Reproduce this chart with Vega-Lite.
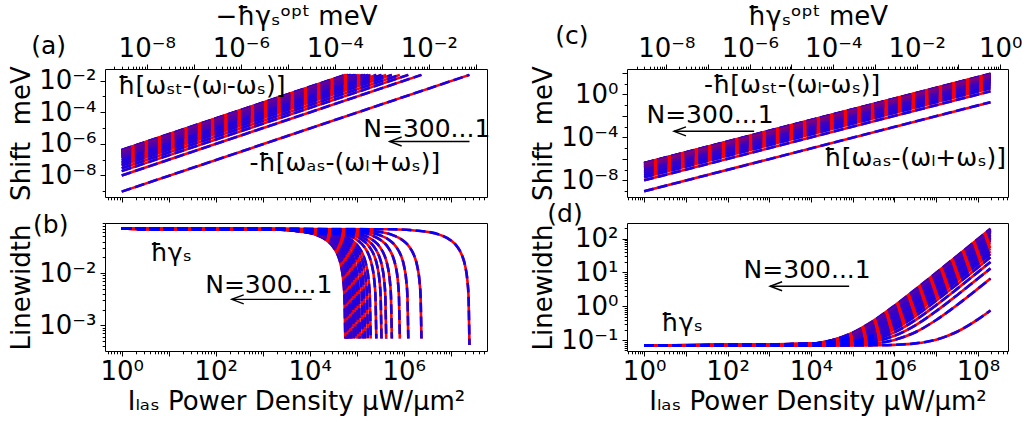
{
  "$schema": "https://vega.github.io/schema/vega-lite/v6.json",
  "background": "white",
  "padding": {"left": 8, "top": 2, "right": 5, "bottom": 5},
  "config": {
    "font": "DejaVu Sans",
    "view": {"stroke": "black", "strokeWidth": 1},
    "axis": {"domain": false, "grid": false, "labelFont": "DejaVu Sans", "labelFontSize": 26, "labelColor": "black", "titleFont": "DejaVu Sans", "titleFontSize": 26, "titleFontWeight": "normal", "titleColor": "black", "tickColor": "black", "tickWidth": 1, "labelOverlap": false, "labelFlush": false, "labelPadding": 4}
  },
  "datasets": {
    "a": [
      {"n":1,"I":1,"v":9.33e-10},{"n":1,"I":2.49e7,"v":0.0233},
      {"n":2,"I":1,"v":9.77e-9},{"n":2,"I":2.377e6,"v":0.0233},
      {"n":3,"I":1,"v":1.86e-8},{"n":3,"I":1.248e6,"v":0.0233},
      {"n":4,"I":1,"v":2.82e-8},{"n":4,"I":8.243e5,"v":0.0233},
      {"n":5,"I":1,"v":4.17e-8},{"n":5,"I":5.572e5,"v":0.0233},
      {"n":6,"I":1,"v":5.5e-8},{"n":6,"I":4.227e5,"v":0.0233},
      {"n":7,"I":1,"v":6.92e-8},{"n":7,"I":3.358e5,"v":0.0233},
      {"n":8,"I":1,"v":8.91e-8},{"n":8,"I":2.607e5,"v":0.0233},
      {"n":9,"I":1,"v":1.17e-7},{"n":9,"I":1.977e5,"v":0.0233},
      {"n":10,"I":1,"v":1.35e-7},{"n":10,"I":1.722e5,"v":0.0233},
      {"n":12,"I":1,"v":1.55e-7},{"n":12,"I":1.5e5,"v":0.0233},
      {"n":14,"I":1,"v":1.74e-7},{"n":14,"I":1.337e5,"v":0.0233},
      {"n":17,"I":1,"v":2.0e-7},{"n":17,"I":1.164e5,"v":0.0233},
      {"n":20,"I":1,"v":2.19e-7},{"n":20,"I":1.062e5,"v":0.0233},
      {"n":25,"I":1,"v":2.45e-7},{"n":25,"I":9.464e4,"v":0.0233},
      {"n":30,"I":1,"v":2.69e-7},{"n":30,"I":8.631e4,"v":0.0233},
      {"n":40,"I":1,"v":3.02e-7},{"n":40,"I":7.692e4,"v":0.0233},
      {"n":50,"I":1,"v":3.24e-7},{"n":50,"I":7.179e4,"v":0.0233},
      {"n":70,"I":1,"v":3.55e-7},{"n":70,"I":6.547e4,"v":0.0233},
      {"n":100,"I":1,"v":3.72e-7},{"n":100,"I":6.253e4,"v":0.0233},
      {"n":150,"I":1,"v":3.89e-7},{"n":150,"I":5.972e4,"v":0.0233},
      {"n":300,"I":1,"v":4.07e-7},{"n":300,"I":5.702e4,"v":0.0233}
    ],
    "b": [
      {"n":1,"I":1,"v":0.07},{"n":1,"I":5.02e5,"v":0.0686},{"n":1,"I":2.51e6,"v":0.063},{"n":1,"I":6.28e6,"v":0.0525},{"n":1,"I":1.005e7,"v":0.042},{"n":1,"I":1.382e7,"v":0.0315},{"n":1,"I":1.758e7,"v":0.021},{"n":1,"I":2.01e7,"v":0.014},{"n":1,"I":2.261e7,"v":0.007},{"n":1,"I":2.386e7,"v":0.0035},{"n":1,"I":2.497e7,"v":0.00042},
      {"n":2,"I":1,"v":0.07},{"n":2,"I":4.8e4,"v":0.0686},{"n":2,"I":2.4e5,"v":0.063},{"n":2,"I":6.0e5,"v":0.0525},{"n":2,"I":9.6e5,"v":0.042},{"n":2,"I":1.319e6,"v":0.0315},{"n":2,"I":1.679e6,"v":0.021},{"n":2,"I":1.919e6,"v":0.014},{"n":2,"I":2.159e6,"v":0.007},{"n":2,"I":2.279e6,"v":0.0035},{"n":2,"I":2.377e6,"v":0.00056},
      {"n":3,"I":1,"v":0.07},{"n":3,"I":2.52e4,"v":0.0686},{"n":3,"I":1.259e5,"v":0.063},{"n":3,"I":3.15e5,"v":0.0525},{"n":3,"I":5.04e5,"v":0.042},{"n":3,"I":6.92e5,"v":0.0315},{"n":3,"I":8.81e5,"v":0.021},{"n":3,"I":1.007e6,"v":0.014},{"n":3,"I":1.133e6,"v":0.007},{"n":3,"I":1.196e6,"v":0.0035},{"n":3,"I":1.248e6,"v":0.00056},
      {"n":4,"I":1,"v":0.07},{"n":4,"I":1.66e4,"v":0.0686},{"n":4,"I":8.32e4,"v":0.063},{"n":4,"I":2.08e5,"v":0.0525},{"n":4,"I":3.33e5,"v":0.042},{"n":4,"I":4.57e5,"v":0.0315},{"n":4,"I":5.82e5,"v":0.021},{"n":4,"I":6.65e5,"v":0.014},{"n":4,"I":7.49e5,"v":0.007},{"n":4,"I":7.9e5,"v":0.0035},{"n":4,"I":8.243e5,"v":0.00056},
      {"n":5,"I":1,"v":0.07},{"n":5,"I":1.12e4,"v":0.0686},{"n":5,"I":5.62e4,"v":0.063},{"n":5,"I":1.406e5,"v":0.0525},{"n":5,"I":2.249e5,"v":0.042},{"n":5,"I":3.093e5,"v":0.0315},{"n":5,"I":3.936e5,"v":0.021},{"n":5,"I":4.498e5,"v":0.014},{"n":5,"I":5.061e5,"v":0.007},{"n":5,"I":5.342e5,"v":0.0035},{"n":5,"I":5.572e5,"v":0.00056},
      {"n":6,"I":1,"v":0.07},{"n":6,"I":8.53e3,"v":0.0686},{"n":6,"I":4.27e4,"v":0.063},{"n":6,"I":1.067e5,"v":0.0525},{"n":6,"I":1.706e5,"v":0.042},{"n":6,"I":2.346e5,"v":0.0315},{"n":6,"I":2.986e5,"v":0.021},{"n":6,"I":3.413e5,"v":0.014},{"n":6,"I":3.839e5,"v":0.007},{"n":6,"I":4.053e5,"v":0.0035},{"n":6,"I":4.228e5,"v":0.00056},
      {"n":7,"I":1,"v":0.07},{"n":7,"I":6.78e3,"v":0.0686},{"n":7,"I":3.39e4,"v":0.063},{"n":7,"I":8.47e4,"v":0.0525},{"n":7,"I":1.355e5,"v":0.042},{"n":7,"I":1.863e5,"v":0.0315},{"n":7,"I":2.372e5,"v":0.021},{"n":7,"I":2.71e5,"v":0.014},{"n":7,"I":3.049e5,"v":0.007},{"n":7,"I":3.219e5,"v":0.0035},{"n":7,"I":3.358e5,"v":0.00056},
      {"n":8,"I":1,"v":0.07},{"n":8,"I":5.26e3,"v":0.0686},{"n":8,"I":2.63e4,"v":0.063},{"n":8,"I":6.58e4,"v":0.0525},{"n":8,"I":1.052e5,"v":0.042},{"n":8,"I":1.447e5,"v":0.0315},{"n":8,"I":1.841e5,"v":0.021},{"n":8,"I":2.104e5,"v":0.014},{"n":8,"I":2.367e5,"v":0.007},{"n":8,"I":2.499e5,"v":0.0035},{"n":8,"I":2.606e5,"v":0.00056},
      {"n":9,"I":1,"v":0.07},{"n":9,"I":3.99e3,"v":0.0686},{"n":9,"I":2.0e4,"v":0.063},{"n":9,"I":4.99e4,"v":0.0525},{"n":9,"I":7.98e4,"v":0.042},{"n":9,"I":1.097e5,"v":0.0315},{"n":9,"I":1.397e5,"v":0.021},{"n":9,"I":1.596e5,"v":0.014},{"n":9,"I":1.796e5,"v":0.007},{"n":9,"I":1.895e5,"v":0.0035},{"n":9,"I":1.977e5,"v":0.00056},
      {"n":10,"I":1,"v":0.07},{"n":10,"I":3.48e3,"v":0.0686},{"n":10,"I":1.738e4,"v":0.063},{"n":10,"I":4.35e4,"v":0.0525},{"n":10,"I":6.95e4,"v":0.042},{"n":10,"I":9.56e4,"v":0.0315},{"n":10,"I":1.217e5,"v":0.021},{"n":10,"I":1.39e5,"v":0.014},{"n":10,"I":1.564e5,"v":0.007},{"n":10,"I":1.651e5,"v":0.0035},{"n":10,"I":1.722e5,"v":0.00056},
      {"n":12,"I":1,"v":0.07},{"n":12,"I":3.03e3,"v":0.0686},{"n":12,"I":1.514e4,"v":0.063},{"n":12,"I":3.79e4,"v":0.0525},{"n":12,"I":6.06e4,"v":0.042},{"n":12,"I":8.33e4,"v":0.0315},{"n":12,"I":1.06e5,"v":0.021},{"n":12,"I":1.211e5,"v":0.014},{"n":12,"I":1.363e5,"v":0.007},{"n":12,"I":1.438e5,"v":0.0035},{"n":12,"I":1.5e5,"v":0.00056},
      {"n":14,"I":1,"v":0.07},{"n":14,"I":2.7e3,"v":0.0686},{"n":14,"I":1.349e4,"v":0.063},{"n":14,"I":3.37e4,"v":0.0525},{"n":14,"I":5.4e4,"v":0.042},{"n":14,"I":7.42e4,"v":0.0315},{"n":14,"I":9.44e4,"v":0.021},{"n":14,"I":1.079e5,"v":0.014},{"n":14,"I":1.214e5,"v":0.007},{"n":14,"I":1.282e5,"v":0.0035},{"n":14,"I":1.337e5,"v":0.00056},
      {"n":17,"I":1,"v":0.07},{"n":17,"I":2.35e3,"v":0.0686},{"n":17,"I":1.175e4,"v":0.063},{"n":17,"I":2.94e4,"v":0.0525},{"n":17,"I":4.7e4,"v":0.042},{"n":17,"I":6.46e4,"v":0.0315},{"n":17,"I":8.23e4,"v":0.021},{"n":17,"I":9.4e4,"v":0.014},{"n":17,"I":1.058e5,"v":0.007},{"n":17,"I":1.116e5,"v":0.0035},{"n":17,"I":1.164e5,"v":0.00056},
      {"n":20,"I":1,"v":0.07},{"n":20,"I":2.14e3,"v":0.0686},{"n":20,"I":1.072e4,"v":0.063},{"n":20,"I":2.68e4,"v":0.0525},{"n":20,"I":4.29e4,"v":0.042},{"n":20,"I":5.9e4,"v":0.0315},{"n":20,"I":7.5e4,"v":0.021},{"n":20,"I":8.58e4,"v":0.014},{"n":20,"I":9.65e4,"v":0.007},{"n":20,"I":1.018e5,"v":0.0035},{"n":20,"I":1.062e5,"v":0.00056},
      {"n":25,"I":1,"v":0.07},{"n":25,"I":1.91e3,"v":0.0686},{"n":25,"I":9.55e3,"v":0.063},{"n":25,"I":2.39e4,"v":0.0525},{"n":25,"I":3.82e4,"v":0.042},{"n":25,"I":5.25e4,"v":0.0315},{"n":25,"I":6.69e4,"v":0.021},{"n":25,"I":7.64e4,"v":0.014},{"n":25,"I":8.6e4,"v":0.007},{"n":25,"I":9.07e4,"v":0.0035},{"n":25,"I":9.46e4,"v":0.00056},
      {"n":30,"I":1,"v":0.07},{"n":30,"I":1.74e3,"v":0.0686},{"n":30,"I":8.71e3,"v":0.063},{"n":30,"I":2.18e4,"v":0.0525},{"n":30,"I":3.48e4,"v":0.042},{"n":30,"I":4.79e4,"v":0.0315},{"n":30,"I":6.1e4,"v":0.021},{"n":30,"I":6.97e4,"v":0.014},{"n":30,"I":7.84e4,"v":0.007},{"n":30,"I":8.27e4,"v":0.0035},{"n":30,"I":8.63e4,"v":0.00056},
      {"n":40,"I":1,"v":0.07},{"n":40,"I":1.55e3,"v":0.0686},{"n":40,"I":7.76e3,"v":0.063},{"n":40,"I":1.94e4,"v":0.0525},{"n":40,"I":3.1e4,"v":0.042},{"n":40,"I":4.27e4,"v":0.0315},{"n":40,"I":5.43e4,"v":0.021},{"n":40,"I":6.21e4,"v":0.014},{"n":40,"I":6.99e4,"v":0.007},{"n":40,"I":7.37e4,"v":0.0035},{"n":40,"I":7.69e4,"v":0.00056},
      {"n":50,"I":1,"v":0.07},{"n":50,"I":1.45e3,"v":0.0686},{"n":50,"I":7.24e3,"v":0.063},{"n":50,"I":1.81e4,"v":0.0525},{"n":50,"I":2.9e4,"v":0.042},{"n":50,"I":3.98e4,"v":0.0315},{"n":50,"I":5.07e4,"v":0.021},{"n":50,"I":5.8e4,"v":0.014},{"n":50,"I":6.52e4,"v":0.007},{"n":50,"I":6.88e4,"v":0.0035},{"n":50,"I":7.18e4,"v":0.00056},
      {"n":70,"I":1,"v":0.07},{"n":70,"I":1.32e3,"v":0.0686},{"n":70,"I":6.61e3,"v":0.063},{"n":70,"I":1.65e4,"v":0.0525},{"n":70,"I":2.64e4,"v":0.042},{"n":70,"I":3.63e4,"v":0.0315},{"n":70,"I":4.62e4,"v":0.021},{"n":70,"I":5.29e4,"v":0.014},{"n":70,"I":5.95e4,"v":0.007},{"n":70,"I":6.28e4,"v":0.0035},{"n":70,"I":6.55e4,"v":0.00056},
      {"n":100,"I":1,"v":0.07},{"n":100,"I":1.26e3,"v":0.0686},{"n":100,"I":6.31e3,"v":0.063},{"n":100,"I":1.58e4,"v":0.0525},{"n":100,"I":2.52e4,"v":0.042},{"n":100,"I":3.47e4,"v":0.0315},{"n":100,"I":4.42e4,"v":0.021},{"n":100,"I":5.05e4,"v":0.014},{"n":100,"I":5.68e4,"v":0.007},{"n":100,"I":5.99e4,"v":0.0035},{"n":100,"I":6.25e4,"v":0.00056},
      {"n":150,"I":1,"v":0.07},{"n":150,"I":1.21e3,"v":0.0686},{"n":150,"I":6.03e3,"v":0.063},{"n":150,"I":1.51e4,"v":0.0525},{"n":150,"I":2.41e4,"v":0.042},{"n":150,"I":3.31e4,"v":0.0315},{"n":150,"I":4.22e4,"v":0.021},{"n":150,"I":4.82e4,"v":0.014},{"n":150,"I":5.42e4,"v":0.007},{"n":150,"I":5.72e4,"v":0.0035},{"n":150,"I":5.97e4,"v":0.00056},
      {"n":300,"I":1,"v":0.07},{"n":300,"I":1.15e3,"v":0.0686},{"n":300,"I":5.75e3,"v":0.063},{"n":300,"I":1.44e4,"v":0.0525},{"n":300,"I":2.3e4,"v":0.042},{"n":300,"I":3.16e4,"v":0.0315},{"n":300,"I":4.03e4,"v":0.021},{"n":300,"I":4.6e4,"v":0.014},{"n":300,"I":5.18e4,"v":0.007},{"n":300,"I":5.47e4,"v":0.0035},{"n":300,"I":5.7e4,"v":0.00056}
    ],
    "c": [
      {"n":1,"I":1,"v":9.33e-10},{"n":1,"I":2e8,"v":0.187},
      {"n":2,"I":1,"v":9.77e-9},{"n":2,"I":2e8,"v":1.954},
      {"n":3,"I":1,"v":1.86e-8},{"n":3,"I":2e8,"v":3.72},
      {"n":4,"I":1,"v":2.82e-8},{"n":4,"I":2e8,"v":5.64},
      {"n":5,"I":1,"v":4.17e-8},{"n":5,"I":2e8,"v":8.34},
      {"n":6,"I":1,"v":5.5e-8},{"n":6,"I":2e8,"v":11.0},
      {"n":7,"I":1,"v":6.92e-8},{"n":7,"I":2e8,"v":13.84},
      {"n":8,"I":1,"v":8.91e-8},{"n":8,"I":2e8,"v":17.82},
      {"n":9,"I":1,"v":1.17e-7},{"n":9,"I":2e8,"v":23.4},
      {"n":10,"I":1,"v":1.35e-7},{"n":10,"I":2e8,"v":27.0},
      {"n":12,"I":1,"v":1.55e-7},{"n":12,"I":2e8,"v":31.0},
      {"n":14,"I":1,"v":1.74e-7},{"n":14,"I":2e8,"v":34.8},
      {"n":17,"I":1,"v":2.0e-7},{"n":17,"I":2e8,"v":40.0},
      {"n":20,"I":1,"v":2.19e-7},{"n":20,"I":2e8,"v":43.8},
      {"n":25,"I":1,"v":2.45e-7},{"n":25,"I":2e8,"v":49.0},
      {"n":30,"I":1,"v":2.69e-7},{"n":30,"I":2e8,"v":53.8},
      {"n":40,"I":1,"v":3.02e-7},{"n":40,"I":2e8,"v":60.4},
      {"n":50,"I":1,"v":3.24e-7},{"n":50,"I":2e8,"v":64.8},
      {"n":70,"I":1,"v":3.55e-7},{"n":70,"I":2e8,"v":71.0},
      {"n":100,"I":1,"v":3.72e-7},{"n":100,"I":2e8,"v":74.4},
      {"n":150,"I":1,"v":3.89e-7},{"n":150,"I":2e8,"v":77.8},
      {"n":300,"I":1,"v":4.07e-7},{"n":300,"I":2e8,"v":81.4}
    ],
    "d": [
      {"n":1,"I":1,"v":0.07},{"n":1,"I":1e4,"v":0.07},{"n":1,"I":3.16e4,"v":0.0701},{"n":1,"I":1e5,"v":0.0703},{"n":1,"I":3.16e5,"v":0.0711},{"n":1,"I":1e6,"v":0.0734},{"n":1,"I":3.16e6,"v":0.0809},{"n":1,"I":1e7,"v":0.1045},{"n":1,"I":3.16e7,"v":0.179},{"n":1,"I":1e8,"v":0.415},{"n":1,"I":2e8,"v":0.759},
      {"n":2,"I":1,"v":0.07},{"n":2,"I":1e4,"v":0.0703},{"n":2,"I":3.16e4,"v":0.071},{"n":2,"I":1e5,"v":0.0733},{"n":2,"I":3.16e5,"v":0.0803},{"n":2,"I":1e6,"v":0.1027},{"n":2,"I":3.16e6,"v":0.173},{"n":2,"I":1e7,"v":0.397},{"n":2,"I":3.16e7,"v":1.1},{"n":2,"I":1e8,"v":3.34},{"n":2,"I":2e8,"v":6.61},
      {"n":3,"I":1,"v":0.07},{"n":3,"I":1e4,"v":0.0707},{"n":3,"I":3.16e4,"v":0.0721},{"n":3,"I":1e5,"v":0.0766},{"n":3,"I":3.16e5,"v":0.0907},{"n":3,"I":1e6,"v":0.1356},{"n":3,"I":3.16e6,"v":0.277},{"n":3,"I":1e7,"v":0.726},{"n":3,"I":3.16e7,"v":2.14},{"n":3,"I":1e8,"v":6.63},{"n":3,"I":2e8,"v":13.18},
      {"n":4,"I":1,"v":0.07},{"n":4,"I":1e4,"v":0.071},{"n":4,"I":3.16e4,"v":0.0732},{"n":4,"I":1e5,"v":0.0802},{"n":4,"I":3.16e5,"v":0.1022},{"n":4,"I":1e6,"v":0.1718},{"n":4,"I":3.16e6,"v":0.392},{"n":4,"I":1e7,"v":1.088},{"n":4,"I":3.16e7,"v":3.29},{"n":4,"I":1e8,"v":10.25},{"n":4,"I":2e8,"v":20.42},
      {"n":5,"I":1,"v":0.07},{"n":5,"I":1e4,"v":0.0714},{"n":5,"I":3.16e4,"v":0.0745},{"n":5,"I":1e5,"v":0.0841},{"n":5,"I":3.16e5,"v":0.1145},{"n":5,"I":1e6,"v":0.2106},{"n":5,"I":3.16e6,"v":0.515},{"n":5,"I":1e7,"v":1.476},{"n":5,"I":3.16e7,"v":4.52},{"n":5,"I":1e8,"v":14.13},{"n":5,"I":2e8,"v":28.19},
      {"n":6,"I":1,"v":0.07},{"n":6,"I":1e4,"v":0.0718},{"n":6,"I":3.16e4,"v":0.0756},{"n":6,"I":1e5,"v":0.0877},{"n":6,"I":3.16e5,"v":0.126},{"n":6,"I":1e6,"v":0.247},{"n":6,"I":3.16e6,"v":0.63},{"n":6,"I":1e7,"v":1.84},{"n":6,"I":3.16e7,"v":5.67},{"n":6,"I":1e8,"v":17.77},{"n":6,"I":2e8,"v":35.47},
      {"n":7,"I":1,"v":0.07},{"n":7,"I":1e4,"v":0.0721},{"n":7,"I":3.16e4,"v":0.0767},{"n":7,"I":1e5,"v":0.0913},{"n":7,"I":3.16e5,"v":0.1373},{"n":7,"I":1e6,"v":0.2829},{"n":7,"I":3.16e6,"v":0.743},{"n":7,"I":1e7,"v":2.199},{"n":7,"I":3.16e7,"v":6.8},{"n":7,"I":1e8,"v":21.36},{"n":7,"I":2e8,"v":42.65},
      {"n":8,"I":1,"v":0.07},{"n":8,"I":1e4,"v":0.0725},{"n":8,"I":3.16e4,"v":0.0779},{"n":8,"I":1e5,"v":0.095},{"n":8,"I":3.16e5,"v":0.1491},{"n":8,"I":1e6,"v":0.3203},{"n":8,"I":3.16e6,"v":0.861},{"n":8,"I":1e7,"v":2.573},{"n":8,"I":3.16e7,"v":7.98},{"n":8,"I":1e8,"v":25.1},{"n":8,"I":2e8,"v":50.13},
      {"n":9,"I":1,"v":0.07},{"n":9,"I":1e4,"v":0.0729},{"n":9,"I":3.16e4,"v":0.0791},{"n":9,"I":1e5,"v":0.0987},{"n":9,"I":3.16e5,"v":0.1609},{"n":9,"I":1e6,"v":0.3574},{"n":9,"I":3.16e6,"v":0.979},{"n":9,"I":1e7,"v":2.944},{"n":9,"I":3.16e7,"v":9.16},{"n":9,"I":1e8,"v":28.81},{"n":9,"I":2e8,"v":57.55},
      {"n":10,"I":1,"v":0.07},{"n":10,"I":1e4,"v":0.0732},{"n":10,"I":3.16e4,"v":0.08},{"n":10,"I":1e5,"v":0.1015},{"n":10,"I":3.16e5,"v":0.1696},{"n":10,"I":1e6,"v":0.3851},{"n":10,"I":3.16e6,"v":1.066},{"n":10,"I":1e7,"v":3.221},{"n":10,"I":3.16e7,"v":10.03},{"n":10,"I":1e8,"v":31.58},{"n":10,"I":2e8,"v":63.09},
      {"n":12,"I":1,"v":0.07},{"n":12,"I":1e4,"v":0.0737},{"n":12,"I":3.16e4,"v":0.0817},{"n":12,"I":1e5,"v":0.107},{"n":12,"I":3.16e5,"v":0.1871},{"n":12,"I":1e6,"v":0.4403},{"n":12,"I":3.16e6,"v":1.241},{"n":12,"I":1e7,"v":3.773},{"n":12,"I":3.16e7,"v":11.78},{"n":12,"I":1e8,"v":37.1},{"n":12,"I":2e8,"v":74.13},
      {"n":14,"I":1,"v":0.07},{"n":14,"I":1e4,"v":0.0743},{"n":14,"I":3.16e4,"v":0.0835},{"n":14,"I":1e5,"v":0.1125},{"n":14,"I":3.16e5,"v":0.2045},{"n":14,"I":1e6,"v":0.4952},{"n":14,"I":3.16e6,"v":1.415},{"n":14,"I":1e7,"v":4.322},{"n":14,"I":3.16e7,"v":13.52},{"n":14,"I":1e8,"v":42.59},{"n":14,"I":2e8,"v":85.11},
      {"n":17,"I":1,"v":0.07},{"n":17,"I":1e4,"v":0.0749},{"n":17,"I":3.16e4,"v":0.0854},{"n":17,"I":1e5,"v":0.1188},{"n":17,"I":3.16e5,"v":0.2244},{"n":17,"I":1e6,"v":0.5582},{"n":17,"I":3.16e6,"v":1.614},{"n":17,"I":1e7,"v":4.952},{"n":17,"I":3.16e7,"v":15.51},{"n":17,"I":1e8,"v":48.89},{"n":17,"I":2e8,"v":97.71},
      {"n":20,"I":1,"v":0.07},{"n":20,"I":1e4,"v":0.0754},{"n":20,"I":3.16e4,"v":0.0869},{"n":20,"I":1e5,"v":0.1236},{"n":20,"I":3.16e5,"v":0.2394},{"n":20,"I":1e6,"v":0.6056},{"n":20,"I":3.16e6,"v":1.764},{"n":20,"I":1e7,"v":5.426},{"n":20,"I":3.16e7,"v":17.01},{"n":20,"I":1e8,"v":53.63},{"n":20,"I":2e8,"v":107.2},
      {"n":25,"I":1,"v":0.07},{"n":25,"I":1e4,"v":0.076},{"n":25,"I":3.16e4,"v":0.089},{"n":25,"I":1e5,"v":0.1301},{"n":25,"I":3.16e5,"v":0.26},{"n":25,"I":1e6,"v":0.6707},{"n":25,"I":3.16e6,"v":1.97},{"n":25,"I":1e7,"v":6.077},{"n":25,"I":3.16e7,"v":19.07},{"n":25,"I":1e8,"v":60.14},{"n":25,"I":2e8,"v":120.2},
      {"n":30,"I":1,"v":0.07},{"n":30,"I":1e4,"v":0.0766},{"n":30,"I":3.16e4,"v":0.0908},{"n":30,"I":1e5,"v":0.1359},{"n":30,"I":3.16e5,"v":0.2783},{"n":30,"I":1e6,"v":0.7287},{"n":30,"I":3.16e6,"v":2.153},{"n":30,"I":1e7,"v":6.657},{"n":30,"I":3.16e7,"v":20.9},{"n":30,"I":1e8,"v":65.94},{"n":30,"I":2e8,"v":131.8},
      {"n":40,"I":1,"v":0.07},{"n":40,"I":1e4,"v":0.0774},{"n":40,"I":3.16e4,"v":0.0934},{"n":40,"I":1e5,"v":0.1439},{"n":40,"I":3.16e5,"v":0.3037},{"n":40,"I":1e6,"v":0.8092},{"n":40,"I":3.16e6,"v":2.407},{"n":40,"I":1e7,"v":7.462},{"n":40,"I":3.16e7,"v":23.44},{"n":40,"I":1e8,"v":73.99},{"n":40,"I":2e8,"v":147.9},
      {"n":50,"I":1,"v":0.07},{"n":50,"I":1e4,"v":0.0779},{"n":50,"I":3.16e4,"v":0.0951},{"n":50,"I":1e5,"v":0.1492},{"n":50,"I":3.16e5,"v":0.3205},{"n":50,"I":1e6,"v":0.8621},{"n":50,"I":3.16e6,"v":2.575},{"n":50,"I":1e7,"v":7.991},{"n":50,"I":3.16e7,"v":25.12},{"n":50,"I":1e8,"v":79.28},{"n":50,"I":2e8,"v":158.5},
      {"n":70,"I":1,"v":0.07},{"n":70,"I":1e4,"v":0.0785},{"n":70,"I":3.16e4,"v":0.0968},{"n":70,"I":1e5,"v":0.1549},{"n":70,"I":3.16e5,"v":0.3384},{"n":70,"I":1e6,"v":0.9187},{"n":70,"I":3.16e6,"v":2.754},{"n":70,"I":1e7,"v":8.557},{"n":70,"I":3.16e7,"v":26.91},{"n":70,"I":1e8,"v":84.94},{"n":70,"I":2e8,"v":169.8},
      {"n":100,"I":1,"v":0.07},{"n":100,"I":1e4,"v":0.0789},{"n":100,"I":3.16e4,"v":0.0981},{"n":100,"I":1e5,"v":0.1589},{"n":100,"I":3.16e5,"v":0.351},{"n":100,"I":1e6,"v":0.959},{"n":100,"I":3.16e6,"v":2.88},{"n":100,"I":1e7,"v":8.958},{"n":100,"I":3.16e7,"v":28.17},{"n":100,"I":1e8,"v":88.95},{"n":100,"I":2e8,"v":177.8},
      {"n":150,"I":1,"v":0.07},{"n":150,"I":1e4,"v":0.0793},{"n":150,"I":3.16e4,"v":0.0994},{"n":150,"I":1e5,"v":0.1631},{"n":150,"I":3.16e5,"v":0.3643},{"n":150,"I":1e6,"v":1.0006},{"n":150,"I":3.16e6,"v":3.013},{"n":150,"I":1e7,"v":9.376},{"n":150,"I":3.16e7,"v":29.5},{"n":150,"I":1e8,"v":93.13},{"n":150,"I":2e8,"v":186.2},
      {"n":300,"I":1,"v":0.07},{"n":300,"I":1e4,"v":0.0797},{"n":300,"I":3.16e4,"v":0.1008},{"n":300,"I":1e5,"v":0.1675},{"n":300,"I":3.16e5,"v":0.378},{"n":300,"I":1e6,"v":1.045},{"n":300,"I":3.16e6,"v":3.152},{"n":300,"I":1e7,"v":9.816},{"n":300,"I":3.16e7,"v":30.89},{"n":300,"I":1e8,"v":97.53},{"n":300,"I":2e8,"v":195.0}
    ]
  },
  "columns": 2,
  "bounds": "flush",
  "align": "each",
  "spacing": {"row": 26, "column": 140},
  "concat": [
    {
      "width": 382, "height": 128,
      "resolve": {"scale": {"x": "independent"}},
      "layer": [
        {
          "layer": [
            {
              "data": {"name": "a"},
              "mark": {"type": "line", "color": "#ff0000", "strokeWidth": 2.6},
              "encoding": {
                "x": {"field": "I", "type": "quantitative", "scale": {"type": "log", "domain": [0.4416, 5.888e7], "nice": false},
                      "axis": {"orient": "bottom", "labels": false, "title": null, "tickCount": 30,
                               "tickSize": {"condition": {"test": "abs(log(datum.value)/LN10-round(log(datum.value)/LN10))<0.001", "value": 5}, "value": 2.8}}},
                "y": {"field": "v", "type": "quantitative", "scale": {"type": "log", "domain": [4.266e-10, 0.05495], "nice": false},
                      "axis": {"values": [1e-9, 1e-8, 1e-7, 1e-6, 1e-5, 1e-4, 1e-3, 1e-2],
                               "tickSize": {"condition": {"test": "round(log(datum.value)/LN10)%2==0", "value": 5}, "value": 2.8},
                               "labelExpr": "round(log(datum.value)/LN10)%2==0 ? '10'+(round(log(datum.value)/LN10)<0?'⁻':'')+substring('⁰¹²³⁴⁵⁶⁷⁸⁹',abs(round(log(datum.value)/LN10)),abs(round(log(datum.value)/LN10))+1) : ''",
                               "title": "Shift\u00a0\u00a0meV"}},
                "detail": {"field": "n", "type": "nominal"}
              }
            },
            {
              "data": {"name": "a"},
              "mark": {"type": "line", "color": "#0000ff", "strokeWidth": 2.6, "strokeDash": [9.8, 4.2]},
              "encoding": {
                "x": {"field": "I", "type": "quantitative", "scale": {"type": "log", "domain": [0.4416, 5.888e7], "nice": false}},
                "y": {"field": "v", "type": "quantitative", "scale": {"type": "log", "domain": [4.266e-10, 0.05495], "nice": false}},
                "detail": {"field": "n", "type": "nominal"}
              }
            },
            {
              "data": {"name": "a"},
              "mark": {"type": "line", "color": "#ff0000", "strokeOpacity": 0.1, "strokeWidth": 2.6},
              "encoding": {
                "x": {"field": "I", "type": "quantitative", "scale": {"type": "log", "domain": [0.4416, 5.888e7], "nice": false}},
                "y": {"field": "v", "type": "quantitative", "scale": {"type": "log", "domain": [4.266e-10, 0.05495], "nice": false}},
                "detail": {"field": "n", "type": "nominal"}
              }
            },
            {
              "data": {"values": [
                {"I": 0.028, "v": 1.69, "t": "(a)"},
                {"I": 50.4, "v": 4.94e-3, "t": "ħ[ωₛₜ-(ωₗ-ωₛ)]"},
                {"I": 3.09e6, "v": 9.3e-6, "t": "N=300...1"},
                {"I": 5.56e4, "v": 6.53e-8, "t": "-ħ[ωₐₛ-(ωₗ+ωₛ)]"}
              ]},
              "mark": {"type": "text", "font": "DejaVu Sans", "fontSize": 25, "color": "black", "align": "center", "baseline": "middle"},
              "encoding": {
                "x": {"field": "I", "type": "quantitative", "scale": {"type": "log", "domain": [0.4416, 5.888e7], "nice": false}},
                "y": {"field": "v", "type": "quantitative", "scale": {"type": "log", "domain": [4.266e-10, 0.05495], "nice": false}},
                "text": {"field": "t"}
              }
            },
            {
              "data": {"values": [{"x1": 2.5e7, "x2": 5.0e5, "v": 1.4e-6}]},
              "layer": [
                {
                  "mark": {"type": "rule", "color": "black", "strokeWidth": 1.4},
                  "encoding": {
                    "x": {"field": "x1", "type": "quantitative", "scale": {"type": "log", "domain": [0.4416, 5.888e7], "nice": false}},
                    "x2": {"field": "x2"},
                    "y": {"field": "v", "type": "quantitative", "scale": {"type": "log", "domain": [4.266e-10, 0.05495], "nice": false}}
                  }
                },
                {
                  "mark": {"type": "point", "shape": "M2,-0.75L0,0L2,0.75", "filled": false, "stroke": "black", "strokeWidth": 1.4, "size": 144, "opacity": 1},
                  "encoding": {
                    "x": {"field": "x2", "type": "quantitative", "scale": {"type": "log", "domain": [0.4416, 5.888e7], "nice": false}},
                    "y": {"field": "v", "type": "quantitative", "scale": {"type": "log", "domain": [4.266e-10, 0.05495], "nice": false}}
                  }
                }
              ]
            }
          ]
        },
        {
          "data": {"values": [{"g": 2.95e-9}, {"g": 0.0738}]},
          "mark": {"type": "point", "opacity": 0},
          "encoding": {
            "x": {"field": "g", "type": "quantitative", "scale": {"type": "log", "domain": [1.297e-9, 0.173], "nice": false},
                  "axis": {"orient": "top", "tickCount": 30,
                           "tickSize": {"condition": {"test": "abs(log(datum.value)/LN10-round(log(datum.value)/LN10))<0.001", "value": 5}, "value": 2.8},
                           "labelExpr": "abs(log(datum.value)/LN10-round(log(datum.value)/LN10))<0.001 && round(log(datum.value)/LN10)%2==0 ? '10'+(round(log(datum.value)/LN10)<0?'⁻':'')+substring('⁰¹²³⁴⁵⁶⁷⁸⁹',abs(round(log(datum.value)/LN10)),abs(round(log(datum.value)/LN10))+1) : ''",
                           "labelPadding": 3, "title": "−ħγₛᵒᵖᵗ meV", "titlePadding": 6}}
          }
        }
      ]
    },
    {
      "width": 381, "height": 128,
      "resolve": {"scale": {"x": "independent"}},
      "layer": [
        {
          "layer": [
            {
              "data": {"name": "c"},
              "mark": {"type": "line", "color": "#ff0000", "strokeWidth": 2.6},
              "encoding": {
                "x": {"field": "I", "type": "quantitative", "scale": {"type": "log", "domain": [0.389, 5.248e8], "nice": false},
                      "axis": {"orient": "bottom", "labels": false, "title": null, "tickCount": 30,
                               "tickSize": {"condition": {"test": "abs(log(datum.value)/LN10-round(log(datum.value)/LN10))<0.001", "value": 5}, "value": 2.8}}},
                "y": {"field": "v", "type": "quantitative", "scale": {"type": "log", "domain": [2.754e-10, 229.1], "nice": false},
                      "axis": {"values": [1e-9, 1e-8, 1e-7, 1e-6, 1e-5, 1e-4, 1e-3, 1e-2, 1e-1, 1, 10, 100],
                               "tickSize": {"condition": {"test": "round(log(datum.value)/LN10)%2==0", "value": 5}, "value": 2.8},
                               "labelExpr": "round(log(datum.value)/LN10)%4==0 ? '10'+(round(log(datum.value)/LN10)<0?'⁻':'')+substring('⁰¹²³⁴⁵⁶⁷⁸⁹',abs(round(log(datum.value)/LN10)),abs(round(log(datum.value)/LN10))+1) : ''",
                               "title": "Shift\u00a0\u00a0meV"}},
                "detail": {"field": "n", "type": "nominal"}
              }
            },
            {
              "data": {"name": "c"},
              "mark": {"type": "line", "color": "#0000ff", "strokeWidth": 2.6, "strokeDash": [9.8, 4.2]},
              "encoding": {
                "x": {"field": "I", "type": "quantitative", "scale": {"type": "log", "domain": [0.389, 5.248e8], "nice": false}},
                "y": {"field": "v", "type": "quantitative", "scale": {"type": "log", "domain": [2.754e-10, 229.1], "nice": false}},
                "detail": {"field": "n", "type": "nominal"}
              }
            },
            {
              "data": {"name": "c"},
              "mark": {"type": "line", "color": "#ff0000", "strokeOpacity": 0.1, "strokeWidth": 2.6},
              "encoding": {
                "x": {"field": "I", "type": "quantitative", "scale": {"type": "log", "domain": [0.389, 5.248e8], "nice": false}},
                "y": {"field": "v", "type": "quantitative", "scale": {"type": "log", "domain": [2.754e-10, 229.1], "nice": false}},
                "detail": {"field": "n", "type": "nominal"}
              }
            },
            {
              "data": {"values": [
                {"I": 0.0187, "v": 2.5e5, "t": "(c)"},
                {"I": 3524, "v": 6.95, "t": "-ħ[ωₛₜ-(ωₗ-ωₛ)]"},
                {"I": 38, "v": 0.0112, "t": "N=300...1"},
                {"I": 3.13e6, "v": 1.11e-6, "t": "ħ[ωₐₛ-(ωₗ+ωₛ)]"}
              ]},
              "mark": {"type": "text", "font": "DejaVu Sans", "fontSize": 25, "color": "black", "align": "center", "baseline": "middle"},
              "encoding": {
                "x": {"field": "I", "type": "quantitative", "scale": {"type": "log", "domain": [0.389, 5.248e8], "nice": false}},
                "y": {"field": "v", "type": "quantitative", "scale": {"type": "log", "domain": [2.754e-10, 229.1], "nice": false}},
                "text": {"field": "t"}
              }
            },
            {
              "data": {"values": [{"x1": 433, "x2": 5.2, "v": 3.63e-4}]},
              "layer": [
                {
                  "mark": {"type": "rule", "color": "black", "strokeWidth": 1.4},
                  "encoding": {
                    "x": {"field": "x1", "type": "quantitative", "scale": {"type": "log", "domain": [0.389, 5.248e8], "nice": false}},
                    "x2": {"field": "x2"},
                    "y": {"field": "v", "type": "quantitative", "scale": {"type": "log", "domain": [2.754e-10, 229.1], "nice": false}}
                  }
                },
                {
                  "mark": {"type": "point", "shape": "M2,-0.75L0,0L2,0.75", "filled": false, "stroke": "black", "strokeWidth": 1.4, "size": 144, "opacity": 1},
                  "encoding": {
                    "x": {"field": "x2", "type": "quantitative", "scale": {"type": "log", "domain": [0.389, 5.248e8], "nice": false}},
                    "y": {"field": "v", "type": "quantitative", "scale": {"type": "log", "domain": [2.754e-10, 229.1], "nice": false}}
                  }
                }
              ]
            }
          ]
        },
        {
          "data": {"values": [{"g": 2.92e-9}, {"g": 0.584}]},
          "mark": {"type": "point", "opacity": 0},
          "encoding": {
            "x": {"field": "g", "type": "quantitative", "scale": {"type": "log", "domain": [1.143e-9, 1.542], "nice": false},
                  "axis": {"orient": "top", "tickCount": 30,
                           "tickSize": {"condition": {"test": "abs(log(datum.value)/LN10-round(log(datum.value)/LN10))<0.001", "value": 5}, "value": 2.8},
                           "labelExpr": "abs(log(datum.value)/LN10-round(log(datum.value)/LN10))<0.001 && round(log(datum.value)/LN10)%2==0 ? '10'+(round(log(datum.value)/LN10)<0?'⁻':'')+substring('⁰¹²³⁴⁵⁶⁷⁸⁹',abs(round(log(datum.value)/LN10)),abs(round(log(datum.value)/LN10))+1) : ''",
                           "labelPadding": 3, "title": "ħγₛᵒᵖᵗ meV", "titlePadding": 6}}
          }
        }
      ]
    },
    {
      "width": 382, "height": 128,
      "layer": [
        {
          "data": {"name": "b"},
          "mark": {"type": "line", "color": "#ff0000", "strokeWidth": 2.6, "interpolate": "monotone"},
          "encoding": {
            "x": {"field": "I", "type": "quantitative", "scale": {"type": "log", "domain": [0.4416, 5.888e7], "nice": false},
                  "axis": {"orient": "bottom", "tickCount": 30,
                           "tickSize": {"condition": {"test": "abs(log(datum.value)/LN10-round(log(datum.value)/LN10))<0.001", "value": 5}, "value": 2.8},
                           "labelExpr": "abs(log(datum.value)/LN10-round(log(datum.value)/LN10))<0.001 && round(log(datum.value)/LN10)%2==0 ? '10'+(round(log(datum.value)/LN10)<0?'⁻':'')+substring('⁰¹²³⁴⁵⁶⁷⁸⁹',abs(round(log(datum.value)/LN10)),abs(round(log(datum.value)/LN10))+1) : ''",
                           "labelPadding": 2, "title": "Iₗₐₛ Power Density μW/μm²", "titlePadding": 4}},
            "y": {"field": "v", "type": "quantitative", "scale": {"type": "log", "domain": [3.236e-4, 0.09036], "nice": false},
                  "axis": {"tickCount": 30,
                           "tickSize": {"condition": {"test": "abs(log(datum.value)/LN10-round(log(datum.value)/LN10))<0.001", "value": 5}, "value": 2.8},
                           "labelExpr": "abs(log(datum.value)/LN10-round(log(datum.value)/LN10))<0.001 ? '10'+(round(log(datum.value)/LN10)<0?'⁻':'')+substring('⁰¹²³⁴⁵⁶⁷⁸⁹',abs(round(log(datum.value)/LN10)),abs(round(log(datum.value)/LN10))+1) : ''",
                           "title": "Linewidth"}},
            "detail": {"field": "n", "type": "nominal"}
          }
        },
        {
          "data": {"name": "b"},
          "mark": {"type": "line", "color": "#0000ff", "strokeWidth": 2.6, "strokeDash": [9.8, 4.2], "interpolate": "monotone"},
          "encoding": {
            "x": {"field": "I", "type": "quantitative", "scale": {"type": "log", "domain": [0.4416, 5.888e7], "nice": false}},
            "y": {"field": "v", "type": "quantitative", "scale": {"type": "log", "domain": [3.236e-4, 0.09036], "nice": false}},
            "detail": {"field": "n", "type": "nominal"}
          }
        },
        {
          "data": {"name": "b"},
          "transform": [{"filter": "datum.v <= 0.053"}],
          "mark": {"type": "line", "color": "#ff0000", "strokeOpacity": 0.1, "strokeWidth": 2.6, "interpolate": "monotone"},
          "encoding": {
            "x": {"field": "I", "type": "quantitative", "scale": {"type": "log", "domain": [0.4416, 5.888e7], "nice": false}},
            "y": {"field": "v", "type": "quantitative", "scale": {"type": "log", "domain": [3.236e-4, 0.09036], "nice": false}},
            "detail": {"field": "n", "type": "nominal"}
          }
        },
        {
          "data": {"values": [
            {"I": 0.031, "v": 0.0817, "t": "(b)"},
            {"I": 11.3, "v": 0.0238, "t": "ħγₛ"},
            {"I": 1343, "v": 5.82e-3, "t": "N=300...1"}
          ]},
          "mark": {"type": "text", "font": "DejaVu Sans", "fontSize": 25, "color": "black", "align": "center", "baseline": "middle"},
          "encoding": {
            "x": {"field": "I", "type": "quantitative", "scale": {"type": "log", "domain": [0.4416, 5.888e7], "nice": false}},
            "y": {"field": "v", "type": "quantitative", "scale": {"type": "log", "domain": [3.236e-4, 0.09036], "nice": false}},
            "text": {"field": "t"}
          }
        },
        {
          "data": {"values": [{"x1": 1.1e4, "x2": 219, "v": 3.14e-3}]},
          "layer": [
            {
              "mark": {"type": "rule", "color": "black", "strokeWidth": 1.4},
              "encoding": {
                "x": {"field": "x1", "type": "quantitative", "scale": {"type": "log", "domain": [0.4416, 5.888e7], "nice": false}},
                "x2": {"field": "x2"},
                "y": {"field": "v", "type": "quantitative", "scale": {"type": "log", "domain": [3.236e-4, 0.09036], "nice": false}}
              }
            },
            {
              "mark": {"type": "point", "shape": "M2,-0.75L0,0L2,0.75", "filled": false, "stroke": "black", "strokeWidth": 1.4, "size": 144, "opacity": 1},
              "encoding": {
                "x": {"field": "x2", "type": "quantitative", "scale": {"type": "log", "domain": [0.4416, 5.888e7], "nice": false}},
                "y": {"field": "v", "type": "quantitative", "scale": {"type": "log", "domain": [3.236e-4, 0.09036], "nice": false}}
              }
            }
          ]
        }
      ]
    },
    {
      "width": 381, "height": 128,
      "layer": [
        {
          "data": {"name": "d"},
          "mark": {"type": "line", "color": "#ff0000", "strokeWidth": 2.6, "interpolate": "monotone"},
          "encoding": {
            "x": {"field": "I", "type": "quantitative", "scale": {"type": "log", "domain": [0.389, 5.248e8], "nice": false},
                  "axis": {"orient": "bottom", "tickCount": 30,
                           "tickSize": {"condition": {"test": "abs(log(datum.value)/LN10-round(log(datum.value)/LN10))<0.001", "value": 5}, "value": 2.8},
                           "labelExpr": "abs(log(datum.value)/LN10-round(log(datum.value)/LN10))<0.001 && round(log(datum.value)/LN10)%2==0 ? '10'+(round(log(datum.value)/LN10)<0?'⁻':'')+substring('⁰¹²³⁴⁵⁶⁷⁸⁹',abs(round(log(datum.value)/LN10)),abs(round(log(datum.value)/LN10))+1) : ''",
                           "labelPadding": 2, "title": "Iₗₐₛ Power Density μW/μm²", "titlePadding": 4}},
            "y": {"field": "v", "type": "quantitative", "scale": {"type": "log", "domain": [0.04831, 288.4], "nice": false},
                  "axis": {"tickCount": 30,
                           "tickSize": {"condition": {"test": "abs(log(datum.value)/LN10-round(log(datum.value)/LN10))<0.001", "value": 5}, "value": 2.8},
                           "labelExpr": "abs(log(datum.value)/LN10-round(log(datum.value)/LN10))<0.001 ? '10'+(round(log(datum.value)/LN10)<0?'⁻':'')+substring('⁰¹²³⁴⁵⁶⁷⁸⁹',abs(round(log(datum.value)/LN10)),abs(round(log(datum.value)/LN10))+1) : ''",
                           "title": "Linewidth"}},
            "detail": {"field": "n", "type": "nominal"}
          }
        },
        {
          "data": {"name": "d"},
          "mark": {"type": "line", "color": "#0000ff", "strokeWidth": 2.6, "strokeDash": [9.8, 4.2], "interpolate": "monotone"},
          "encoding": {
            "x": {"field": "I", "type": "quantitative", "scale": {"type": "log", "domain": [0.389, 5.248e8], "nice": false}},
            "y": {"field": "v", "type": "quantitative", "scale": {"type": "log", "domain": [0.04831, 288.4], "nice": false}},
            "detail": {"field": "n", "type": "nominal"}
          }
        },
        {
          "data": {"name": "d"},
          "transform": [{"filter": "datum.v >= 0.1"}],
          "mark": {"type": "line", "color": "#ff0000", "strokeOpacity": 0.1, "strokeWidth": 2.6, "interpolate": "monotone"},
          "encoding": {
            "x": {"field": "I", "type": "quantitative", "scale": {"type": "log", "domain": [0.389, 5.248e8], "nice": false}},
            "y": {"field": "v", "type": "quantitative", "scale": {"type": "log", "domain": [0.04831, 288.4], "nice": false}},
            "detail": {"field": "n", "type": "nominal"}
          }
        },
        {
          "data": {"values": [
            {"I": 0.0127, "v": 521, "t": "(d)"},
            {"I": 8070, "v": 11.6, "t": "N=300...1"},
            {"I": 8.1, "v": 0.317, "t": "ħγₛ"}
          ]},
          "mark": {"type": "text", "font": "DejaVu Sans", "fontSize": 25, "color": "black", "align": "center", "baseline": "middle"},
          "encoding": {
            "x": {"field": "I", "type": "quantitative", "scale": {"type": "log", "domain": [0.389, 5.248e8], "nice": false}},
            "y": {"field": "v", "type": "quantitative", "scale": {"type": "log", "domain": [0.04831, 288.4], "nice": false}},
            "text": {"field": "t"}
          }
        },
        {
          "data": {"values": [{"x1": 8.2e4, "x2": 1045, "v": 3.92}]},
          "layer": [
            {
              "mark": {"type": "rule", "color": "black", "strokeWidth": 1.4},
              "encoding": {
                "x": {"field": "x1", "type": "quantitative", "scale": {"type": "log", "domain": [0.389, 5.248e8], "nice": false}},
                "x2": {"field": "x2"},
                "y": {"field": "v", "type": "quantitative", "scale": {"type": "log", "domain": [0.04831, 288.4], "nice": false}}
              }
            },
            {
              "mark": {"type": "point", "shape": "M2,-0.75L0,0L2,0.75", "filled": false, "stroke": "black", "strokeWidth": 1.4, "size": 144, "opacity": 1},
              "encoding": {
                "x": {"field": "x2", "type": "quantitative", "scale": {"type": "log", "domain": [0.389, 5.248e8], "nice": false}},
                "y": {"field": "v", "type": "quantitative", "scale": {"type": "log", "domain": [0.04831, 288.4], "nice": false}}
              }
            }
          ]
        }
      ]
    }
  ]
}
